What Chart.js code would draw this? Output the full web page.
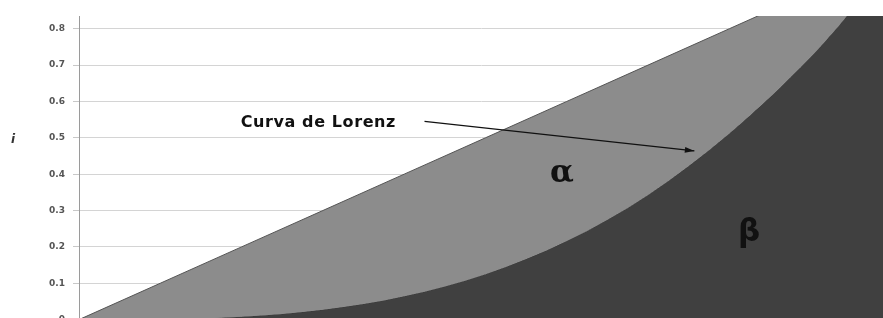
<!DOCTYPE html>
<html>
<head>
<meta charset="utf-8">
<script src="https://cdn.jsdelivr.net/npm/chart.js@4"></script>
<style>
    html, body { margin: 0; padding: 0; overflow: hidden; background: #fff; }
    #wrap { width: 883px; height: 333px; }
</style>
</head>
<body>
<div id="wrap"><canvas id="my-chart"></canvas></div>
<script>
// share of population (x) against share of income (y)
const xValues = [0, 0.1, 0.2, 0.3, 0.4, 0.5, 0.6, 0.7, 0.8, 0.9, 0.95, 1.0];
const equality = [0, 0.1, 0.2, 0.3, 0.4, 0.5, 0.6, 0.7, 0.8, 0.9, 0.95, 1.0];
const lorenz = [0, 0.001, 0.008, 0.027, 0.064, 0.125, 0.216, 0.343, 0.512, 0.722, 0.85, 1.0];
const yTicks = [0, 0.1, 0.2, 0.3, 0.4, 0.5, 0.6, 0.7, 0.8];

const toPoints = ys => ys.map((y, i) => ({ x: xValues[i], y }));

const labelsPlugin = {
    id: "labels",
    afterDraw(chart) {
        const ctx = chart.ctx;
        const xs = chart.scales.x;
        const ys = chart.scales.y;
        ctx.save();

        // axis title
        ctx.fillStyle = "#333";
        ctx.font = "italic bold 12px 'DejaVu Sans'";
        ctx.textAlign = "center";
        ctx.textBaseline = "middle";
        ctx.fillText("i", 13, 140);

        // Lorenz curve label with arrow
        ctx.fillStyle = "#111";
        ctx.font = "bold 16px 'DejaVu Sans'";
        ctx.letterSpacing = "0.6px";
        ctx.textAlign = "right";
        ctx.textBaseline = "alphabetic";
        ctx.fillText("Curva de Lorenz", 396, 127);
        ctx.letterSpacing = "0px";

        const x0 = xs.getPixelForValue(0.425), y0 = ys.getPixelForValue(0.545);
        const x1 = xs.getPixelForValue(0.757), y1 = ys.getPixelForValue(0.464);
        ctx.strokeStyle = "#111";
        ctx.lineWidth = 1.3;
        ctx.beginPath();
        ctx.moveTo(x0, y0);
        ctx.lineTo(x1, y1);
        ctx.stroke();
        const ang = Math.atan2(y1 - y0, x1 - x0);
        ctx.beginPath();
        ctx.moveTo(x1, y1);
        ctx.lineTo(x1 - 10 * Math.cos(ang - 0.3), y1 - 10 * Math.sin(ang - 0.3));
        ctx.lineTo(x1 - 10 * Math.cos(ang + 0.3), y1 - 10 * Math.sin(ang + 0.3));
        ctx.closePath();
        ctx.fillStyle = "#111";
        ctx.fill();

        // area labels
        ctx.textAlign = "center";
        ctx.textBaseline = "middle";
        ctx.fillStyle = "#111";
        ctx.font = "bold 31px 'DejaVu Serif'";
        ctx.fillText("α", 562, 174);
        ctx.font = "bold 31px 'DejaVu Sans'";
        ctx.fillText("β", 749, 233);
        ctx.restore();
    }
};

const ctx = document.getElementById("my-chart").getContext("2d");
const myChart = new Chart(ctx, {
    type: "line",
    data: {
        datasets: [
            {
                label: "Igualdad",
                data: toPoints(equality),
                borderColor: "#555",
                borderWidth: 1,
                backgroundColor: "#8c8c8c",
                fill: "+1",
                pointRadius: 0,
                tension: 0
            },
            {
                label: "Curva de Lorenz",
                data: toPoints(lorenz),
                borderColor: "#3a3a3a",
                borderWidth: 1,
                backgroundColor: "#404040",
                fill: "start",
                pointRadius: 0,
                cubicInterpolationMode: "monotone"
            }
        ]
    },
    options: {
        responsive: true,
        maintainAspectRatio: false,
        animation: false,
        layout: { padding: { top: 16, right: 0, bottom: 0, left: 0 } },
        plugins: {
            legend: { display: false },
            tooltip: { enabled: false }
        },
        scales: {
            x: {
                type: "linear",
                min: 0,
                max: 0.989,
                display: false
            },
            y: {
                min: 0,
                max: 0.835,
                afterBuildTicks: scale => {
                    scale.ticks = yTicks.map(v => ({ value: v }));
                },
                afterFit: scale => {
                    scale.width = 79;
                },
                border: { color: "#9a9a9a", width: 1 },
                grid: {
                    color: "#d4d4d4",
                    lineWidth: 1,
                    tickLength: 6,
                    tickColor: "#c8c8c8"
                },
                ticks: {
                    padding: 8,
                    color: "#555",
                    font: { family: "'DejaVu Sans'", size: 9, weight: "bold" },
                    callback: v => (v === 0 ? "0" : v.toFixed(1))
                }
            }
        }
    },
    plugins: [labelsPlugin]
});
</script>
</body>
</html>
